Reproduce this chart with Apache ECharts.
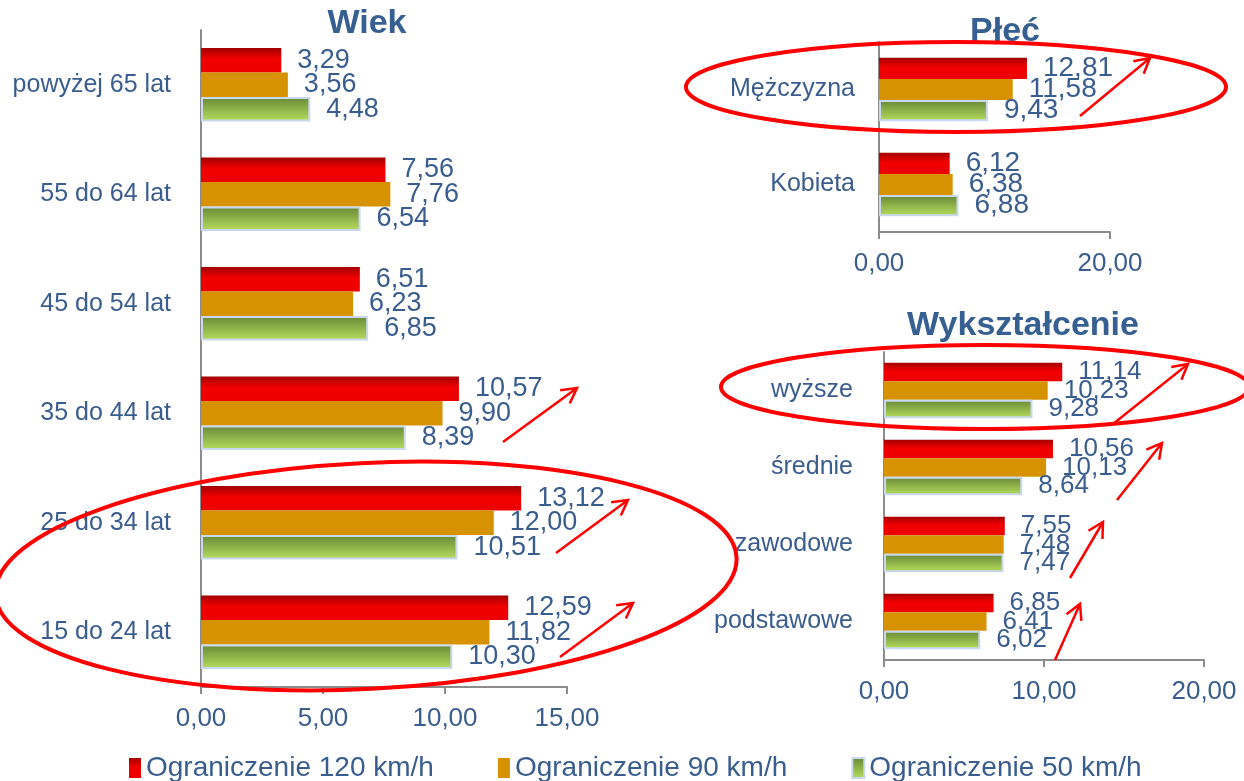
<!DOCTYPE html>
<html>
<head>
    <meta charset="utf-8">
    <script src="https://cdn.jsdelivr.net/npm/echarts@6/dist/echarts.min.js"></script>
    <style>
        body { margin: 0; background: #fff; }
        #chart { width: 1244px; height: 781px; }
    </style>
</head>
<body>
<div id="chart"></div>
<script type="text/javascript">
    var seriesNames = ['Ograniczenie 120 km/h', 'Ograniczenie 90 km/h', 'Ograniczenie 50 km/h'];

    var wiekCats = ['powyżej 65 lat', '55 do 64 lat', '45 do 54 lat', '35 do 44 lat', '25 do 34 lat', '15 do 24 lat'];
    var wiek120 = [3.29, 7.56, 6.51, 10.57, 13.12, 12.59];
    var wiek90 = [3.56, 7.76, 6.23, 9.90, 12.00, 11.82];
    var wiek50 = [4.48, 6.54, 6.85, 8.39, 10.51, 10.30];

    var plecCats = ['Mężczyzna', 'Kobieta'];
    var plec120 = [12.81, 6.12];
    var plec90 = [11.58, 6.38];
    var plec50 = [9.43, 6.88];

    var wyksCats = ['wyższe', 'średnie', 'zawodowe', 'podstawowe'];
    var wyks120 = [11.14, 10.56, 7.55, 6.85];
    var wyks90 = [10.23, 10.13, 7.48, 6.41];
    var wyks50 = [9.28, 8.64, 7.47, 6.02];

    var blue = '#3a5d8f';
    var font = 'Liberation Sans';

    var red = new echarts.graphic.LinearGradient(0, 0, 0, 1, [
        { offset: 0, color: '#a30000' },
        { offset: 0.45, color: '#f20000' },
        { offset: 1, color: '#ec0000' }
    ]);
    var green = new echarts.graphic.LinearGradient(0, 0, 0, 1, [
        { offset: 0, color: '#678736' },
        { offset: 1, color: '#b8de5e' }
    ]);
    var styles = [
        { color: red },
        { color: '#d69200' },
        { color: green, borderColor: '#c8d8ee', borderWidth: 2 }
    ];

    function fmt(p) {
        return p.value.toFixed(2).replace('.', ',');
    }

    function makeSeries(idx, sets, labelSize) {
        return sets.map(function (d, i) {
            return {
                name: seriesNames[i],
                type: 'bar',
                xAxisIndex: idx,
                yAxisIndex: idx,
                barGap: '0%',
                barCategoryGap: idx === 2 ? '28%' : '33%',
                itemStyle: styles[i],
                label: {
                    show: true,
                    position: 'right',
                    distance: 16,
                    formatter: fmt,
                    color: blue,
                    fontFamily: font,
                    fontSize: labelSize
                },
                data: d
            };
        });
    }

    function catAxis(idx, cats, margin) {
        return {
            type: 'category',
            gridIndex: idx,
            inverse: true,
            data: cats,
            axisLine: { lineStyle: { color: '#8c8c8c', width: 2 } },
            axisTick: { length: 6, lineStyle: { color: '#8c8c8c', width: 2 } },
            axisLabel: { color: blue, fontFamily: font, fontSize: 25, margin: margin }
        };
    }

    function valAxis(idx, max, interval) {
        return {
            type: 'value',
            gridIndex: idx,
            min: 0,
            max: max,
            interval: interval,
            splitLine: { show: false },
            axisLine: { show: true, lineStyle: { color: '#8c8c8c', width: 2 } },
            axisTick: { show: true, length: 7, lineStyle: { color: '#8c8c8c', width: 2 } },
            axisLabel: {
                color: blue, fontFamily: font, fontSize: 26, margin: 19,
                formatter: function (v) { return v.toFixed(2).replace('.', ','); }
            }
        };
    }

    // red annotation arrows
    var arrows = [
        [503, 442, 577, 388],
        [556, 553, 628, 500],
        [560, 657, 633, 603],
        [1080, 116, 1150, 58],
        [1113, 424, 1188, 364],
        [1117, 500, 1162, 443],
        [1070, 578, 1103, 522],
        [1055, 660, 1080, 604]
    ];
    var graphics = [];
    arrows.forEach(function (a) {
        var ang = Math.atan2(a[3] - a[1], a[2] - a[0]);
        var L = 17, w = 0.5;
        graphics.push({
            type: 'line', z: 100,
            shape: { x1: a[0], y1: a[1], x2: a[2], y2: a[3] },
            style: { stroke: '#f00', lineWidth: 2.5 }
        });
        graphics.push({
            type: 'polyline', z: 100,
            shape: {
                points: [
                    [a[2] - L * Math.cos(ang - w), a[3] - L * Math.sin(ang - w)],
                    [a[2], a[3]],
                    [a[2] - L * Math.cos(ang + w), a[3] - L * Math.sin(ang + w)]
                ]
            },
            style: { stroke: '#f00', lineWidth: 2.5, fill: null }
        });
    });
    // red ellipses
    [[366, 576, 371, 113, 0.05], [956, 87, 270, 45, 0], [985, 387, 264, 42, 0]].forEach(function (e) {
        graphics.push({
            type: 'ellipse', z: 100,
            x: e[0], y: e[1], rotation: e[4],
            shape: { cx: 0, cy: 0, rx: e[2], ry: e[3] },
            style: { stroke: '#f00', lineWidth: 4, fill: null }
        });
    });

    var option = {
        animation: false,
        title: [
            { text: 'Wiek', left: 362, top: 2, textAlign: 'center' },
            { text: 'Płeć', left: 1000, top: 10, textAlign: 'center' },
            { text: 'Wykształcenie', left: 1018, top: 304, textAlign: 'center' }
        ].map(function (t) {
            t.textStyle = { color: '#376092', fontFamily: font, fontSize: 34, fontWeight: 'bold' };
            return t;
        }),
        legend: {
            left: 124,
            top: 749,
            icon: 'rect',
            itemWidth: 12,
            itemHeight: 20,
            itemGap: 64,
            textStyle: { color: blue, fontFamily: font, fontSize: 28 },
            data: seriesNames
        },
        grid: [
            { left: 201, top: 30, width: 366, height: 657 },
            { left: 879, top: 42, width: 231, height: 190 },
            { left: 884, top: 352, width: 320, height: 308 }
        ],
        yAxis: [catAxis(0, wiekCats, 30), catAxis(1, plecCats, 24), catAxis(2, wyksCats, 31)],
        xAxis: [valAxis(0, 15, 5), valAxis(1, 20, 20), valAxis(2, 20, 10)],
        series: [].concat(
            makeSeries(0, [wiek120, wiek90, wiek50], 27),
            makeSeries(1, [plec120, plec90, plec50], 28),
            makeSeries(2, [wyks120, wyks90, wyks50], 26)
        ),
        graphic: graphics
    };

    var chart = echarts.init(document.getElementById('chart'));
    chart.setOption(option);
</script>
</body>
</html>
